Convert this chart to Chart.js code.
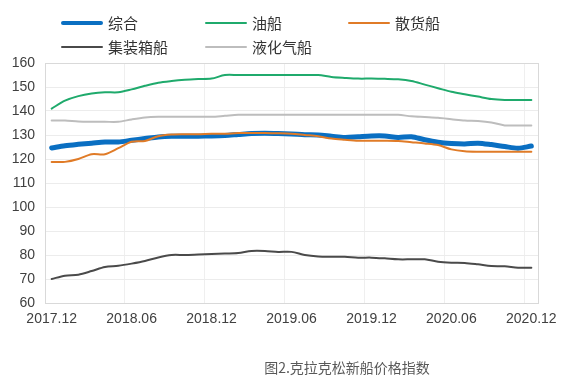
<!DOCTYPE html>
<html>
<head>
<meta charset="utf-8">
<script src="https://cdn.jsdelivr.net/npm/chart.js@4/dist/chart.umd.min.js"></script>
<style>
  html, body { margin: 0; padding: 0; background: #fff; }
  #wrap { position: relative; width: 567px; height: 380px; overflow: hidden; }
  #c { position: absolute; left: 0; top: 0; }
  .lg { position: absolute; font-family: "Noto Sans CJK SC", sans-serif; font-size: 15px; color: #333; line-height: 20px; white-space: nowrap; }
  .sw { position: absolute; }
  #cap { position: absolute; left: 0; width: 694px; top: 357px; text-align: center; font-family: "Noto Sans CJK SC", sans-serif; font-size: 14px; color: #595959; line-height: 20px; }
</style>
</head>
<body>
<div id="wrap">
  <canvas id="c" width="567" height="380"></canvas>
  <div id="legend"></div>
  <div id="cap">图2.克拉克松新船价格指数</div>
</div>
<script>
const categories = [
  '2017.12','2018.01','2018.02','2018.03','2018.04','2018.05','2018.06','2018.07','2018.08','2018.09','2018.10','2018.11',
  '2018.12','2019.01','2019.02','2019.03','2019.04','2019.05','2019.06','2019.07','2019.08','2019.09','2019.10','2019.11',
  '2019.12','2020.01','2020.02','2020.03','2020.04','2020.05','2020.06','2020.07','2020.08','2020.09','2020.10','2020.11',
  '2020.12'
];
const seriesNames = ['综合', '油船', '散货船', '集装箱船', '液化气船'];
const composite = [124.6,125.5,126.1,126.6,127.1,127.1,127.8,128.5,129.2,129.5,129.5,129.5,
  129.6,129.8,130.2,130.6,130.7,130.6,130.4,130.1,130.0,129.5,129.0,129.3,
  129.6,129.6,129.0,129.3,128.0,127.0,126.5,126.3,126.6,126.0,125.2,124.5,125.4];
const tanker = [141.0,144.3,146.2,147.3,147.8,147.8,149.0,150.5,151.8,152.5,153.0,153.3,
  153.5,155.0,155.0,155.0,155.0,155.0,155.0,155.0,155.0,154.2,153.8,153.5,
  153.5,153.4,153.2,152.5,151.0,149.5,148.0,147.0,146.0,145.0,144.6,144.6,144.6];
const bulk = [118.8,118.8,120.0,122.0,122.0,124.5,127.2,127.5,129.5,130.2,130.3,130.3,
  130.5,130.5,130.8,130.8,130.8,130.7,130.5,130.0,129.5,128.5,128.0,127.6,
  127.6,127.6,127.5,127.0,126.5,125.8,124.0,123.2,123.0,123.0,123.0,123.0,123.0];
const container = [70.0,71.4,71.8,73.3,75.0,75.5,76.4,77.5,79.0,80.0,80.0,80.2,
  80.4,80.6,80.8,81.7,81.7,81.3,81.3,80.0,79.4,79.3,79.3,78.9,
  78.9,78.6,78.2,78.2,78.2,77.2,76.8,76.7,76.1,75.4,75.3,74.7,74.7];
const lpg = [136.0,136.0,135.6,135.5,135.5,135.5,136.5,137.3,137.6,137.6,137.6,137.6,
  137.6,138.0,138.4,138.4,138.4,138.4,138.4,138.4,138.4,138.4,138.4,138.4,
  138.4,138.4,138.4,137.8,137.5,137.2,136.6,136.0,135.8,135.2,134.0,134.0,134.0];
const yTicks = { min: 60, max: 160, step: 10 };
const labelEvery = 6;

const colors = ['#0a6fc2', '#1faa6c', '#e07b27', '#4a4a4a', '#bdbdbd'];
const widths = [5, 2, 2, 2, 2];
const values = [composite, tanker, bulk, container, lpg];

// HTML legend (grid layout like the original)
const legendPos = [
  { x: 61, y: 13 }, { x: 205, y: 13 }, { x: 348, y: 13 },
  { x: 61, y: 37 }, { x: 205, y: 37 }
];
const legendEl = document.getElementById('legend');
seriesNames.forEach((name, i) => {
  const p = legendPos[i];
  const sw = document.createElement('div');
  sw.className = 'sw';
  const h = i === 0 ? 4 : 2;
  sw.style.cssText = `left:${p.x}px;top:${p.y + 10 - h / 2}px;width:42px;height:${h}px;background:${colors[i]};border-radius:${h/2}px;`;
  legendEl.appendChild(sw);
  const t = document.createElement('div');
  t.className = 'lg';
  t.style.left = (p.x + 47) + 'px';
  t.style.top = p.y + 'px';
  t.textContent = name;
  legendEl.appendChild(t);
});

const borderPlugin = {
  id: 'plotBorder',
  beforeDatasetsDraw(chart) {
    const { ctx, chartArea: a } = chart;
    ctx.save();
    ctx.strokeStyle = '#d9d9d9';
    ctx.lineWidth = 1;
    ctx.strokeRect(Math.round(a.left) + 0.5, Math.round(a.top) + 0.5, Math.round(a.right - a.left), Math.round(a.bottom - a.top));
    ctx.restore();
  }
};

new Chart(document.getElementById('c'), {
  type: 'line',
  data: {
    labels: categories,
    datasets: seriesNames.map((name, i) => ({
      label: name,
      data: values[i],
      borderColor: colors[i],
      backgroundColor: colors[i],
      borderWidth: widths[i],
      pointRadius: 0,
      tension: 0.3,
      fill: false,
      order: i === 0 ? 10 : 5 - i,
      borderCapStyle: 'round',
      borderJoinStyle: 'round'
    }))
  },
  options: {
    responsive: false,
    animation: false,
    devicePixelRatio: 1,
    layout: { padding: { left: 0, right: 29, top: 63, bottom: 0 } },
    plugins: { legend: { display: false }, tooltip: { enabled: false }, title: { display: false } },
    scales: {
      x: {
        type: 'category',
        offset: true,
        grid: {
          offset: true,
          drawTicks: false,
          color: (ctx) => (ctx.index % labelEvery === 0 && ctx.index > 0 && ctx.index < categories.length) ? '#efefef' : 'rgba(0,0,0,0)',
          lineWidth: 1
        },
        border: { display: true, color: '#d9d9d9' },
        ticks: {
          autoSkip: false,
          maxRotation: 0,
          padding: 8,
          color: '#404040',
          font: { family: '"Liberation Sans", Arial, sans-serif', size: 14 },
          callback: function (v, i) { return i % labelEvery === 0 ? categories[i] : ''; }
        },
        afterFit: (s) => { s.height = 77; }
      },
      y: {
        min: yTicks.min,
        max: yTicks.max,
        grid: { drawTicks: false, color: (ctx) => ctx.index === 0 ? 'rgba(0,0,0,0)' : '#ececec' },
        border: { display: true, color: '#d9d9d9' },
        ticks: {
          stepSize: yTicks.step,
          padding: 10,
          color: '#404040',
          font: { family: '"Liberation Sans", Arial, sans-serif', size: 14 }
        },
        afterFit: (s) => { s.width = 45; }
      }
    }
  },
  plugins: [borderPlugin]
});
</script>
</body>
</html>
